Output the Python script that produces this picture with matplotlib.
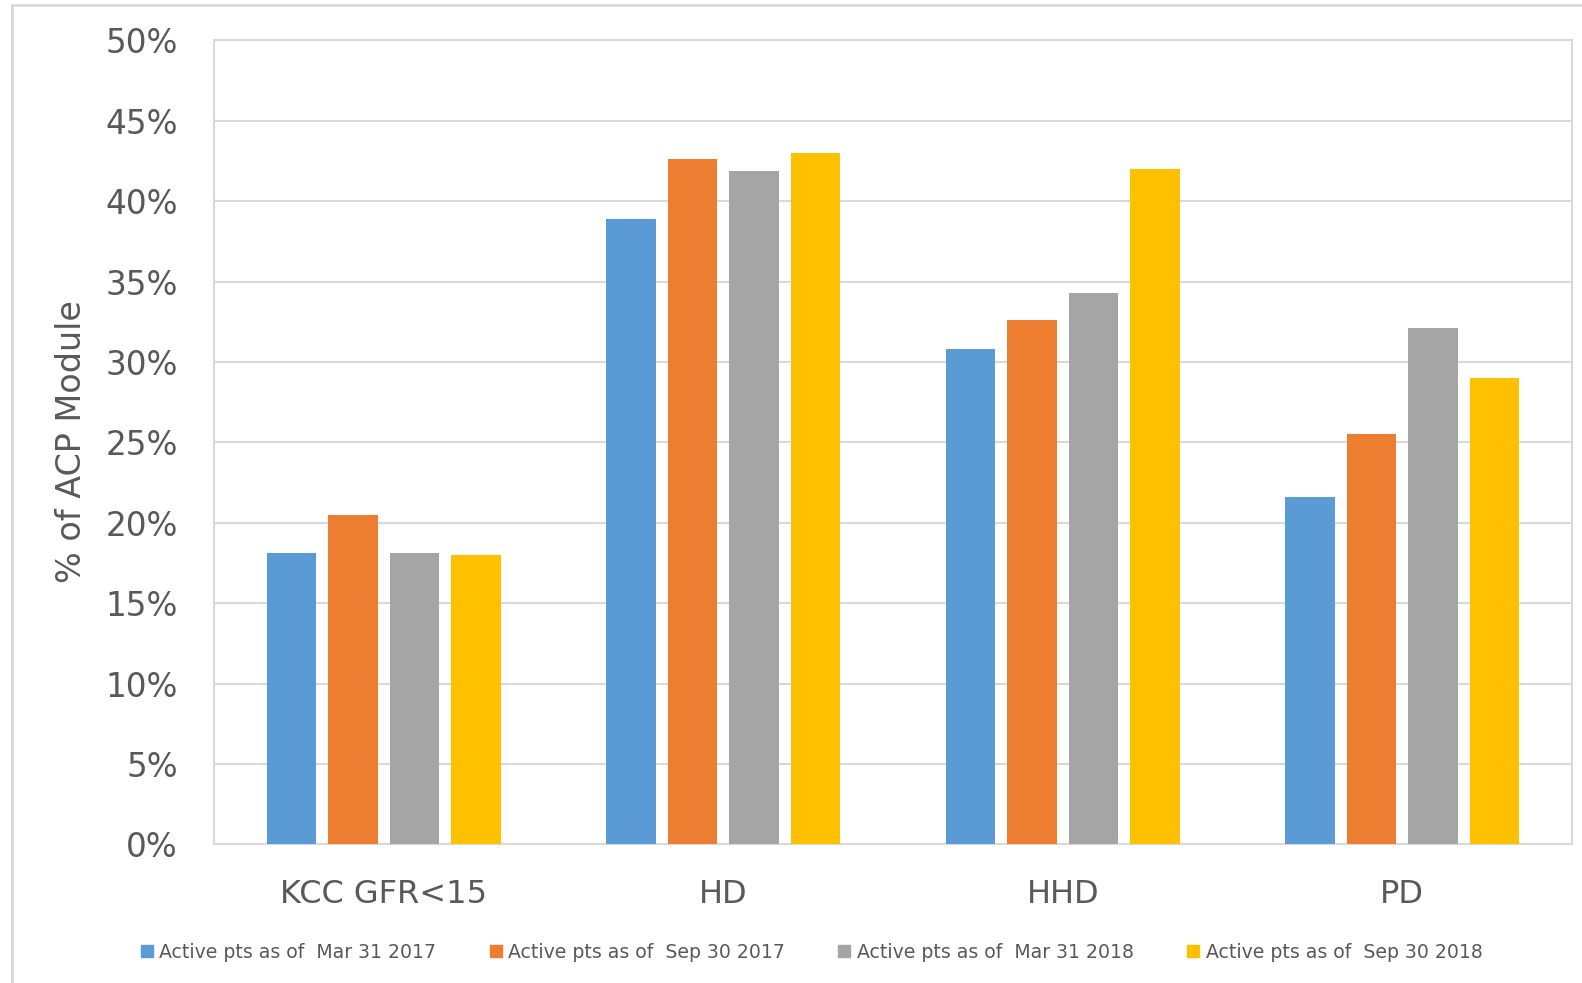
import numpy as np
import matplotlib.pyplot as plt
from matplotlib.patches import Rectangle
from matplotlib.lines import Line2D

# Share of active patients in the ACP module, by modality and snapshot date
categories = ['KCC GFR<15', 'HD', 'HHD', 'PD']
series_names = ['Active pts as of  Mar 31 2017', 'Active pts as of  Sep 30 2017',
                'Active pts as of  Mar 31 2018', 'Active pts as of  Sep 30 2018']
mar_2017 = [18.1, 38.9, 30.8, 21.6]
sep_2017 = [20.5, 42.6, 32.6, 25.5]
mar_2018 = [18.1, 41.9, 34.3, 32.1]
sep_2018 = [18.0, 43.0, 42.0, 29.0]
yticks = [0, 5, 10, 15, 20, 25, 30, 35, 40, 45, 50]

colors = ['#5B9BD5', '#ED7D31', '#A5A5A5', '#FFC000']
text_color = '#595959'
line_color = '#D9D9D9'

plt.rcParams['font.family'] = ['DejaVu Sans']

fig = plt.figure(figsize=(15.82, 9.83), dpi=100)
ax = fig.add_axes([0.1353, 0.1409, 0.9937 - 0.1353, 0.9589 - 0.1409])

x = np.arange(len(categories))
pitch = 0.181
width = 0.146
all_series = [mar_2017, sep_2017, mar_2018, sep_2018]
for i, values in enumerate(all_series):
    ax.bar(x + (i - 1.5) * pitch, values, width, color=colors[i], zorder=3)

ax.set_xlim(-0.5, len(categories) - 0.5)
ax.set_ylim(0, 50)
ax.set_yticks(yticks)
ax.set_yticklabels([f'{t}%' for t in yticks])
ax.set_xticks(x)
ax.set_xticklabels(categories)

ax.grid(axis='y', color=line_color, linewidth=1.5, zorder=0)
for side in ax.spines.values():
    side.set_color(line_color)
    side.set_linewidth(1.5)

ax.tick_params(axis='y', length=0, pad=26, labelsize=23.5, labelcolor=text_color)
ax.tick_params(axis='x', length=0, pad=25, labelsize=23, labelcolor=text_color)

fig.text(0.0455, 0.5505, '% of ACP Module', rotation=90, ha='center', va='center',
         fontsize=24, color=text_color)

# Legend along the bottom
handles = [Line2D([], [], marker='s', linestyle='', markersize=9,
                  markerfacecolor=c, markeredgecolor=c) for c in colors]
fig.legend(handles, series_names, loc='center', bbox_to_anchor=(0.512, 0.031),
           ncol=4, frameon=False, fontsize=13.6, labelcolor=text_color,
           handletextpad=0.15, columnspacing=2.65, handlelength=1.0)

# Light outer border around the chart
fig.add_artist(Rectangle((12 / 1582, -0.05), 1.2, 1 - 5 / 983 + 0.05,
                         transform=fig.transFigure, fill=False,
                         edgecolor=line_color, linewidth=2))

fig.savefig('out.png', dpi=100)
